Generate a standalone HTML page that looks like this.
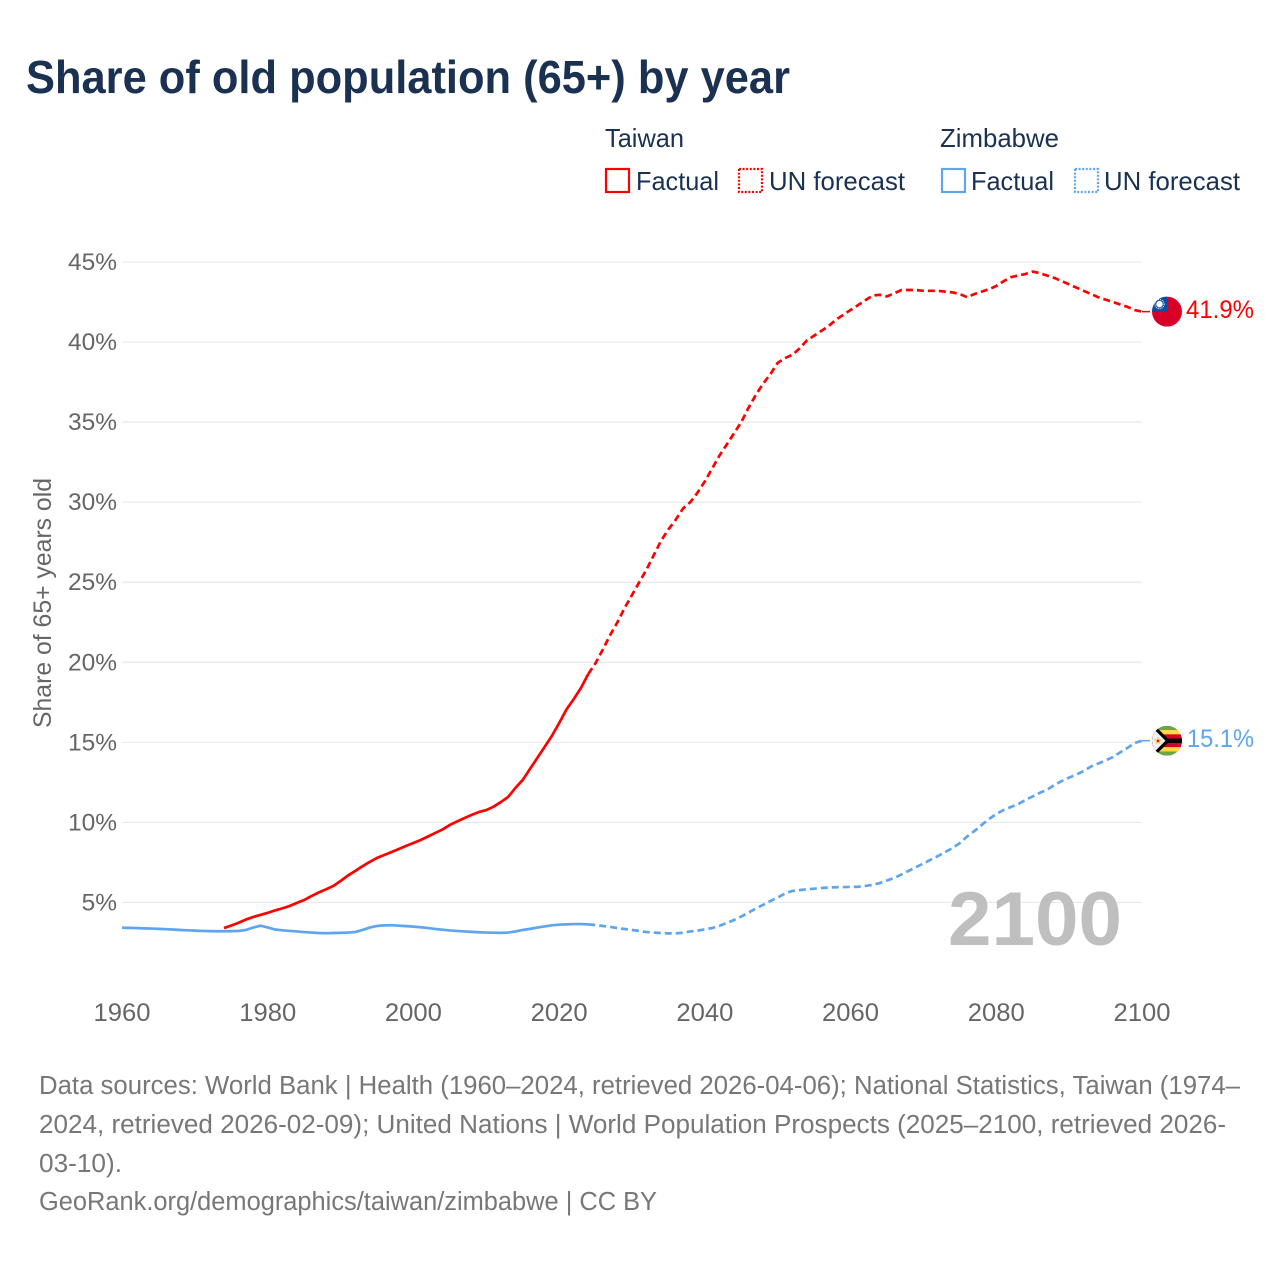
<!DOCTYPE html>
<html lang="en">
<head>
<meta charset="utf-8">
<title>Share of old population (65+) by year</title>
<style>
html,body{margin:0;padding:0;background:#fff;width:1280px;height:1280px;overflow:hidden}
svg{display:block}
text{font-family:"Liberation Sans",sans-serif}
</style>
</head>
<body>
<svg id="chart" xmlns="http://www.w3.org/2000/svg" width="1280" height="1280" viewBox="0 0 1280 1280">
  <defs>
    <clipPath id="flag-clip-tw"><circle cx="0" cy="0" r="15"/></clipPath>
    <clipPath id="flag-clip-zw"><circle cx="0" cy="0" r="15"/></clipPath>
  </defs>
  <rect x="0" y="0" width="1280" height="1280" fill="#fff"/>
  <text x="26" y="93" font-size="46" font-weight="700" fill="#1a3152" textLength="764" lengthAdjust="spacingAndGlyphs">Share of old population (65+) by year</text>

  <g font-size="26" fill="#1a3152">
    <text x="605" y="147" textLength="79" lengthAdjust="spacingAndGlyphs">Taiwan</text>
    <rect x="606" y="169" width="23" height="23" fill="none" stroke="#ff0000" stroke-width="2.2"/>
    <text x="636" y="190" textLength="83" lengthAdjust="spacingAndGlyphs">Factual</text>
    <rect x="739" y="169" width="23" height="23" fill="none" stroke="#ff0000" stroke-width="2.2" stroke-dasharray="2 1.6"/>
    <text x="769" y="190" textLength="136" lengthAdjust="spacingAndGlyphs">UN forecast</text>
    <text x="940" y="147" textLength="119" lengthAdjust="spacingAndGlyphs">Zimbabwe</text>
    <rect x="942" y="169" width="23" height="23" fill="none" stroke="#5ea5ee" stroke-width="2.2"/>
    <text x="971" y="190" textLength="83" lengthAdjust="spacingAndGlyphs">Factual</text>
    <rect x="1075" y="169" width="23" height="23" fill="none" stroke="#5ea5ee" stroke-width="2.2" stroke-dasharray="2 1.6"/>
    <text x="1104" y="190" textLength="136" lengthAdjust="spacingAndGlyphs">UN forecast</text>
  </g>

  <g id="grid"></g>
  <g id="y-ticks"></g>
  <g id="x-ticks"></g>

  <text transform="translate(51,728) rotate(-90)" font-size="25" fill="#666" textLength="250" lengthAdjust="spacingAndGlyphs">Share of 65+ years old</text>

  <text x="948" y="945" font-size="76" font-weight="700" fill="#bfbfbf" textLength="174" lengthAdjust="spacingAndGlyphs">2100</text>

  <g id="series"></g>

  <g id="flag-tw">
    <g clip-path="url(#flag-clip-tw)">
      <rect x="-15" y="-15" width="30" height="30" fill="#d80027"/>
      <rect x="-15" y="-15" width="15" height="15" fill="#0b4ea2"/>
      <circle cx="-7.5" cy="-7.5" r="3.2" fill="#fff"/>
      <circle cx="-7.5" cy="-7.5" r="4.6" fill="none" stroke="#fff" stroke-width="1" stroke-dasharray="1 1"/>
    </g>
  </g>
  <g id="flag-zw">
    <g clip-path="url(#flag-clip-zw)">
      <rect x="-15" y="-15" width="30" height="30" fill="#6da544"/>
      <rect x="-15" y="-10.7" width="30" height="21.4" fill="#ffda44"/>
      <rect x="-15" y="-6.4" width="30" height="12.8" fill="#d80027"/>
      <rect x="-15" y="-2.2" width="30" height="4.4" fill="#000"/>
      <polygon points="-16,-16 -13,-16 3,0 -13,16 -16,16" fill="#000"/>
      <polygon points="-16,-14.5 -1.5,0 -16,14.5" fill="#f0f0f0"/>
      <polygon points="-9,-4 -8,-1.2 -5,-1.2 -7.4,0.6 -6.5,3.5 -9,1.8 -11.5,3.5 -10.6,0.6 -13,-1.2 -10,-1.2" fill="#ffb83d"/>
      <circle cx="-9" cy="0.3" r="1.1" fill="#d80027"/>
    </g>
  </g>
  <g id="end-labels"></g>

  <g font-size="25.5" fill="#777">
    <text x="39" y="1094" textLength="1201" lengthAdjust="spacingAndGlyphs">Data sources: World Bank | Health (1960–2024, retrieved 2026-04-06); National Statistics, Taiwan (1974–</text>
    <text x="39" y="1133" textLength="1187" lengthAdjust="spacingAndGlyphs">2024, retrieved 2026-02-09); United Nations | World Population Prospects (2025–2100, retrieved 2026-</text>
    <text x="39" y="1172" textLength="83" lengthAdjust="spacingAndGlyphs">03-10).</text>
    <text x="39" y="1210" textLength="618" lengthAdjust="spacingAndGlyphs">GeoRank.org/demographics/taiwan/zimbabwe | CC BY</text>
  </g>
</svg>
<script>
const yTicks = [5, 10, 15, 20, 25, 30, 35, 40, 45];
const xTicks = [1960, 1980, 2000, 2020, 2040, 2060, 2080, 2100];

const taiwanFactualStart = 1974;
const taiwanFactual = [3.4,3.56,3.73,3.93,4.09,4.22,4.35,4.5,4.63,4.78,4.97,5.15,5.4,5.62,5.82,6.03,6.34,6.68,6.96,7.26,7.53,7.78,7.96,8.15,8.34,8.53,8.71,8.9,9.12,9.34,9.56,9.84,10.06,10.27,10.47,10.65,10.77,10.98,11.27,11.59,12.15,12.65,13.34,14.02,14.71,15.4,16.2,17.05,17.7,18.4,19.27];

const taiwanForecastStart = 2024;
const taiwanForecast = [19.27,19.95,20.8,21.7,22.5,23.4,24.2,25.0,25.8,26.7,27.6,28.3,28.9,29.6,30.0,30.6,31.3,32.1,32.9,33.6,34.3,35.0,35.9,36.7,37.4,38.0,38.7,39.0,39.2,39.6,40.1,40.4,40.7,41.0,41.4,41.7,42.0,42.3,42.6,42.9,42.95,42.85,43.05,43.25,43.25,43.25,43.2,43.2,43.2,43.15,43.1,43.0,42.8,43.0,43.15,43.3,43.5,43.8,44.05,44.15,44.25,44.4,44.3,44.15,44.0,43.8,43.6,43.4,43.2,43.0,42.8,42.65,42.5,42.35,42.2,42.0,41.9];

const zimbabweFactualStart = 1960;
const zimbabweFactual = [3.42,3.41,3.4,3.38,3.37,3.35,3.33,3.31,3.28,3.26,3.24,3.22,3.21,3.2,3.2,3.21,3.22,3.28,3.43,3.55,3.44,3.31,3.26,3.22,3.19,3.15,3.12,3.09,3.08,3.09,3.1,3.12,3.15,3.28,3.43,3.53,3.57,3.58,3.55,3.52,3.49,3.45,3.4,3.34,3.3,3.25,3.22,3.19,3.16,3.14,3.12,3.11,3.1,3.12,3.19,3.28,3.35,3.43,3.5,3.57,3.61,3.63,3.65,3.65,3.63];

const zimbabweForecastStart = 2024;
const zimbabweForecast = [3.63,3.59,3.53,3.47,3.4,3.34,3.28,3.22,3.15,3.12,3.09,3.07,3.07,3.11,3.19,3.24,3.32,3.4,3.54,3.72,3.9,4.12,4.37,4.62,4.85,5.09,5.31,5.56,5.72,5.77,5.82,5.86,5.9,5.93,5.95,5.96,5.97,5.98,6.03,6.09,6.21,6.37,6.53,6.75,6.98,7.21,7.43,7.67,7.9,8.15,8.4,8.71,9.12,9.46,9.84,10.21,10.52,10.77,10.96,11.15,11.4,11.62,11.85,12.05,12.34,12.59,12.8,12.99,13.21,13.49,13.68,13.87,14.08,14.37,14.65,14.96,15.1];

const RED = '#ff0000';
const BLUE = '#5ea5ee';
const NS = 'http://www.w3.org/2000/svg';

function xScale(year) { return 122 + (year - 1960) * (1142 - 122) / (2100 - 1960); }
function yScale(v) { return 982.5 - v * (982.5 - 262) / 45; }

function linePath(start, values) {
  return values.map(function (v, i) {
    return (i ? 'L' : 'M') + xScale(start + i).toFixed(2) + ' ' + yScale(v).toFixed(2);
  }).join(' ');
}

const gridGroup = document.getElementById('grid');
const yGroup = document.getElementById('y-ticks');
yTicks.forEach(function (t) {
  const line = document.createElementNS(NS, 'line');
  
  
  line.setAttribute('x1', xScale(1960));
  line.setAttribute('x2', xScale(2100));
  line.setAttribute('y1', yScale(t));
  line.setAttribute('y2', yScale(t));
  line.setAttribute('stroke', '#e9e9e9');
  line.setAttribute('stroke-width', '1.2');
  gridGroup.appendChild(line);

  const label = document.createElementNS(NS, 'text');
  
  
  label.setAttribute('x', 117);
  label.setAttribute('y', yScale(t) + 8);
  label.setAttribute('text-anchor', 'end');
  label.setAttribute('font-size', '24.5');
  label.setAttribute('fill', '#666');
  label.textContent = t + '%';
  yGroup.appendChild(label);
});

const xGroup = document.getElementById('x-ticks');
xTicks.forEach(function (t) {
  const label = document.createElementNS(NS, 'text');
  
  
  label.setAttribute('x', xScale(t));
  label.setAttribute('y', 1021);
  label.setAttribute('text-anchor', 'middle');
  label.setAttribute('font-size', '25');
  label.setAttribute('fill', '#666');
  label.setAttribute('textLength', '57');
  label.setAttribute('lengthAdjust', 'spacingAndGlyphs');
  label.textContent = t;
  xGroup.appendChild(label);
});

const seriesGroup = document.getElementById('series');

const zwFactualPath = document.createElementNS(NS, 'path');


zwFactualPath.setAttribute('d', linePath(zimbabweFactualStart, zimbabweFactual));
zwFactualPath.setAttribute('fill', 'none');
zwFactualPath.setAttribute('stroke', BLUE);
zwFactualPath.setAttribute('stroke-width', '2.7');
zwFactualPath.setAttribute('stroke-linejoin', 'round');
seriesGroup.appendChild(zwFactualPath);

const zwForecastPath = document.createElementNS(NS, 'path');


zwForecastPath.setAttribute('d', linePath(zimbabweForecastStart, zimbabweForecast));
zwForecastPath.setAttribute('fill', 'none');
zwForecastPath.setAttribute('stroke', BLUE);
zwForecastPath.setAttribute('stroke-width', '2.7');
zwForecastPath.setAttribute('stroke-linejoin', 'round');
zwForecastPath.setAttribute('stroke-dasharray', '7 4');
seriesGroup.appendChild(zwForecastPath);

const twFactualPath = document.createElementNS(NS, 'path');


twFactualPath.setAttribute('d', linePath(taiwanFactualStart, taiwanFactual));
twFactualPath.setAttribute('fill', 'none');
twFactualPath.setAttribute('stroke', RED);
twFactualPath.setAttribute('stroke-width', '2.7');
twFactualPath.setAttribute('stroke-linejoin', 'round');
seriesGroup.appendChild(twFactualPath);

const twForecastPath = document.createElementNS(NS, 'path');


twForecastPath.setAttribute('d', linePath(taiwanForecastStart, taiwanForecast));
twForecastPath.setAttribute('fill', 'none');
twForecastPath.setAttribute('stroke', RED);
twForecastPath.setAttribute('stroke-width', '2.7');
twForecastPath.setAttribute('stroke-linejoin', 'round');
twForecastPath.setAttribute('stroke-dasharray', '7 4');
seriesGroup.appendChild(twForecastPath);

const twEnd = taiwanForecast[taiwanForecast.length - 1];
const zwEnd = zimbabweForecast[zimbabweForecast.length - 1];

const twLeader = document.createElementNS(NS, 'line');


twLeader.setAttribute('x1', xScale(2100));
twLeader.setAttribute('x2', xScale(2100) + 8);
twLeader.setAttribute('y1', yScale(twEnd));
twLeader.setAttribute('y2', yScale(twEnd));
twLeader.setAttribute('stroke', RED);
twLeader.setAttribute('stroke-width', '1.5');
seriesGroup.appendChild(twLeader);

const zwLeader = document.createElementNS(NS, 'line');


zwLeader.setAttribute('x1', xScale(2100));
zwLeader.setAttribute('x2', xScale(2100) + 8);
zwLeader.setAttribute('y1', yScale(zwEnd));
zwLeader.setAttribute('y2', yScale(zwEnd));
zwLeader.setAttribute('stroke', BLUE);
zwLeader.setAttribute('stroke-width', '1.5');
seriesGroup.appendChild(zwLeader);

document.getElementById('flag-tw').setAttribute('transform', 'translate(1167,' + yScale(twEnd) + ')');
document.getElementById('flag-zw').setAttribute('transform', 'translate(1167,' + yScale(zwEnd) + ')');

const endGroup = document.getElementById('end-labels');

const twLabel = document.createElementNS(NS, 'text');


twLabel.setAttribute('x', 1186);
twLabel.setAttribute('y', yScale(twEnd) + 6.5);
twLabel.setAttribute('font-size', '25');
twLabel.setAttribute('fill', RED);
twLabel.setAttribute('textLength', '68');
twLabel.setAttribute('lengthAdjust', 'spacingAndGlyphs');
twLabel.textContent = twEnd.toFixed(1) + '%';
endGroup.appendChild(twLabel);

const zwLabel = document.createElementNS(NS, 'text');


zwLabel.setAttribute('x', 1187);
zwLabel.setAttribute('y', yScale(zwEnd) + 6.5);
zwLabel.setAttribute('font-size', '25');
zwLabel.setAttribute('fill', BLUE);
zwLabel.setAttribute('textLength', '67');
zwLabel.setAttribute('lengthAdjust', 'spacingAndGlyphs');
zwLabel.textContent = zwEnd.toFixed(1) + '%';
endGroup.appendChild(zwLabel);
</script>
</body>
</html>
